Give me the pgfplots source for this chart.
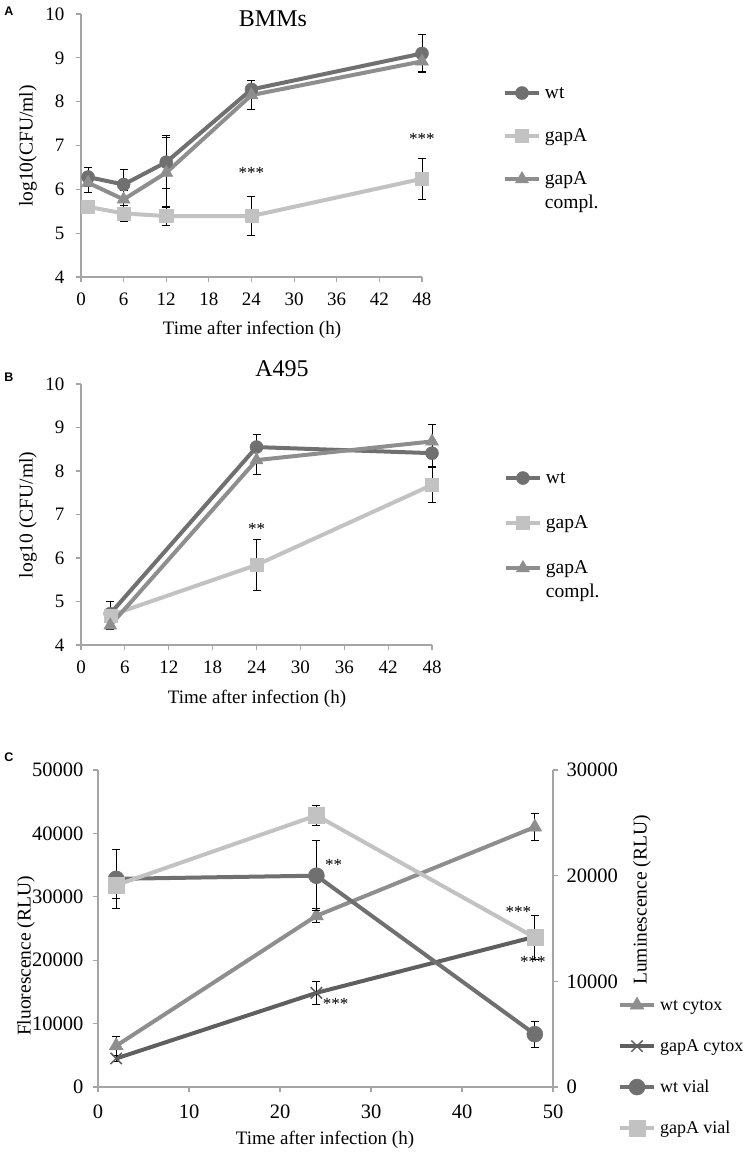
\documentclass[border=0pt]{standalone}
\usepackage{fontspec}
\setmainfont{Liberation Serif}
\newfontfamily\panelfont{Liberation Sans}
\usepackage{pgfplots}
\pgfplotsset{compat=1.18}

\definecolor{cwt}{RGB}{112,112,112}
\definecolor{cgap}{RGB}{194,194,194}
\definecolor{ccompl}{RGB}{142,142,142}
\definecolor{caxis}{RGB}{165,165,165}

% panel A (BMMs): time, value, error
\pgfplotstableread{
x y e
1 6.28 0.21
6 6.11 0.34
12 6.62 0.60
24 8.28 0.21
48 9.10 0.43
}\awt
\pgfplotstableread{
x y e
1 5.60 0.05
6 5.45 0.18
12 5.39 0.22
24 5.39 0.44
48 6.24 0.47
}\agap
\pgfplotstableread{
x y e
1 6.15 0.22
6 5.77 0.20
12 6.38 0.80
24 8.15 0.33
48 8.92 0.24
}\acompl
% panel B (A495)
\pgfplotstableread{
x y e
4 4.72 0.28
24 8.55 0.30
48 8.41 0.30
}\bwt
\pgfplotstableread{
x y e
4 4.68 0.10
24 5.84 0.59
48 7.68 0.40
}\bgap
\pgfplotstableread{
x y e
4 4.45 0.10
24 8.25 0.32
48 8.68 0.39
}\bcompl
% panel C: cytox on the left axis, vial on the right axis
\pgfplotstableread{
x y e
2 6500 1500
24 27000 1100
48 41000 2100
}\cwtcytox
\pgfplotstableread{
x y e
2 4500 500
24 14850 1800
48 23700 1200
}\cgapcytox
\pgfplotstableread{
x y e
2 19700 2800
24 20000 3300
48 5000 1250
}\cwtvial
\pgfplotstableread{
x y e
2 19100 1250
24 25700 900
48 14150 2100
}\cgapvial

\pgfplotsset{
  excel/.style={
    scale only axis, clip=false,
    axis x line*=bottom, axis y line*=left,
    axis line style={caxis, line width=1.2pt},
    tick align=outside, major tick length=5pt,
    tick style={caxis, line width=1.2pt},
    /pgf/number format/assume math mode=true,
    /pgf/number format/1000 sep={},
    scaled y ticks=false,
    tick label style={font=\fontsize{19}{21}\selectfont, black},
    error bars/error bar style={black, line width=0.9pt},
    error bars/error mark options={black, rotate=90, mark size=4pt, line width=0.9pt},
    legend image code/.code={\draw[yshift=5pt, mark repeat=2, mark phase=2, ##1]
      plot coordinates {(0pt,0pt) (17pt,0pt) (34pt,0pt)};},
    legend style={draw=none, fill=none, inner sep=0pt, outer sep=0pt,
      anchor=north west, column sep=2pt,
      font=\fontsize{18}{23}\selectfont,
      cells={anchor=base west},
      nodes={inner sep=2pt, text height=13pt, text depth=5pt}},
  },
  ser/.style={color=#1, line width=4pt,
    mark options={solid, fill=#1, draw=#1, line width=0.5pt},
    error bars/y dir=both, error bars/y explicit},
}

\begin{document}
\begin{tikzpicture}
\path[use as bounding box] (0pt,0pt) rectangle (745pt,-1154pt);

% ---------- A ----------
\begin{axis}[excel,
  at={(81pt,-277pt)}, anchor=south west,
  width=341pt, height=263pt,
  xmin=0, xmax=48, ymin=4, ymax=10,
  xtick={0,6,...,48}, ytick={4,5,...,10},
  xticklabel style={yshift=-7pt}, yticklabel style={xshift=-8pt},
  legend style={at={(1.2375,0.7376)}, row sep=21pt, font=\fontsize{19.5}{24}\selectfont},
]
\addplot+[ser=cwt, mark=*, mark size=6.5pt] table[x=x, y=y, y error=e] {\awt};
\addlegendentry{wt}
\addplot+[ser=cgap, mark=square*, mark size=6.5pt] table[x=x, y=y, y error=e] {\agap};
\addlegendentry{gapA}
\addplot+[ser=ccompl, mark=triangle*, mark size=7.5pt] table[x=x, y=y, y error=e] {\acompl};
\addlegendentry{\begin{tabular}[t]{@{}l@{}}gapA\\compl.\end{tabular}}
\node[font=\fontsize{17}{17}\selectfont] at (axis cs:24,6.38) {***};
\node[font=\fontsize{17}{17}\selectfont] at (axis cs:48,7.16) {***};
\end{axis}

% ---------- B ----------
\begin{axis}[excel,
  at={(81pt,-645pt)}, anchor=south west,
  width=351pt, height=261pt,
  xmin=0, xmax=48, ymin=4, ymax=10,
  xtick={0,6,...,48}, ytick={4,5,...,10},
  xticklabel style={yshift=-7pt}, yticklabel style={xshift=-8pt},
  legend style={at={(1.205,0.678)}, row sep=23pt, font=\fontsize{19.5}{24}\selectfont},
]
\addplot+[ser=cwt, mark=*, mark size=6.5pt] table[x=x, y=y, y error=e] {\bwt};
\addlegendentry{wt}
\addplot+[ser=cgap, mark=square*, mark size=6.5pt] table[x=x, y=y, y error=e] {\bgap};
\addlegendentry{gapA}
\addplot+[ser=ccompl, mark=triangle*, mark size=7.5pt] table[x=x, y=y, y error=e] {\bcompl};
\addlegendentry{\begin{tabular}[t]{@{}l@{}}gapA\\compl.\end{tabular}}
\node[font=\fontsize{17}{17}\selectfont] at (axis cs:24,6.66) {**};
\end{axis}

% ---------- C, left axis ----------
\begin{axis}[excel,
  at={(98pt,-1087pt)}, anchor=south west,
  width=455pt, height=317pt,
  xmin=0, xmax=50, ymin=0, ymax=50000,
  xtick={0,10,...,50}, ytick={0,10000,...,50000},
  tick label style={font=\fontsize{20.5}{22}\selectfont, black},
  xticklabel style={yshift=-9pt}, yticklabel style={xshift=-6pt},
]
\addplot+[ser=ccompl, mark=triangle*, mark size=8pt] table[x=x, y=y, y error=e] {\cwtcytox};
\addplot+[ser=cwt!85!black, mark=x, mark size=8pt, mark options={line width=1.5pt}] table[x=x, y=y, y error=e] {\cgapcytox};
\node[font=\fontsize{17}{17}\selectfont] at (axis cs:25.9,35000) {**};
\node[font=\fontsize{17}{17}\selectfont] at (axis cs:26.1,13160) {***};
\node[font=\fontsize{17}{17}\selectfont] at (axis cs:46.2,27630) {***};
\node[font=\fontsize{17}{17}\selectfont] at (axis cs:47.8,19740) {***};
\end{axis}

% ---------- C, right axis ----------
\begin{axis}[excel,
  at={(98pt,-1087pt)}, anchor=south west,
  width=455pt, height=317pt,
  axis x line=none, axis y line*=right,
  xmin=0, xmax=50, ymin=0, ymax=30000,
  ytick={0,10000,20000,30000},
  tick label style={font=\fontsize{20.5}{22}\selectfont, black},
  yticklabel style={xshift=5pt},
  legend style={at={(1.1429,0.290)}, row sep=19pt},
]
\addlegendimage{ser=ccompl, mark=triangle*, mark size=8pt}
\addlegendentry{wt cytox}
\addlegendimage{ser=cwt!85!black, mark=x, mark size=8pt, mark options={line width=1.5pt}}
\addlegendentry{gapA cytox}
\addplot+[ser=cwt, mark=*, mark size=8pt] table[x=x, y=y, y error=e] {\cwtvial};
\addlegendentry{wt vial}
\addplot+[ser=cgap, mark=square*, mark size=8pt] table[x=x, y=y, y error=e] {\cgapvial};
\addlegendentry{gapA vial}
\end{axis}

% ---------- titles, axis labels, panel letters ----------
\node[font=\panelfont\bfseries\fontsize{12.5}{12.5}\selectfont] at (9pt,-11pt) {A};
\node[font=\panelfont\bfseries\fontsize{12.5}{12.5}\selectfont] at (9pt,-377pt) {B};
\node[font=\panelfont\bfseries\fontsize{12.5}{12.5}\selectfont] at (9pt,-757pt) {C};
\node[font=\fontsize{24}{24}\selectfont] at (273pt,-19pt) {BMMs};
\node[font=\fontsize{24}{24}\selectfont] at (282pt,-369pt) {A495};
\node[font=\fontsize{19}{19}\selectfont] at (252pt,-330pt) {Time after infection (h)};
\node[font=\fontsize{19}{19}\selectfont] at (257pt,-699pt) {Time after infection (h)};
\node[font=\fontsize{19}{19}\selectfont] at (325pt,-1140pt) {Time after infection (h)};
\node[font=\fontsize{19.5}{19.5}\selectfont, rotate=90] at (28pt,-146pt) {log10(CFU/ml)};
\node[font=\fontsize{19.5}{19.5}\selectfont, rotate=90] at (28pt,-515pt) {log10 (CFU/ml)};
\node[font=\fontsize{19.5}{19.5}\selectfont, rotate=90] at (26pt,-956pt) {Fluorescence (RLU)};
\node[font=\fontsize{19.5}{19.5}\selectfont, rotate=90] at (642pt,-900pt) {Luminescence (RLU)};
\end{tikzpicture}
\end{document}
